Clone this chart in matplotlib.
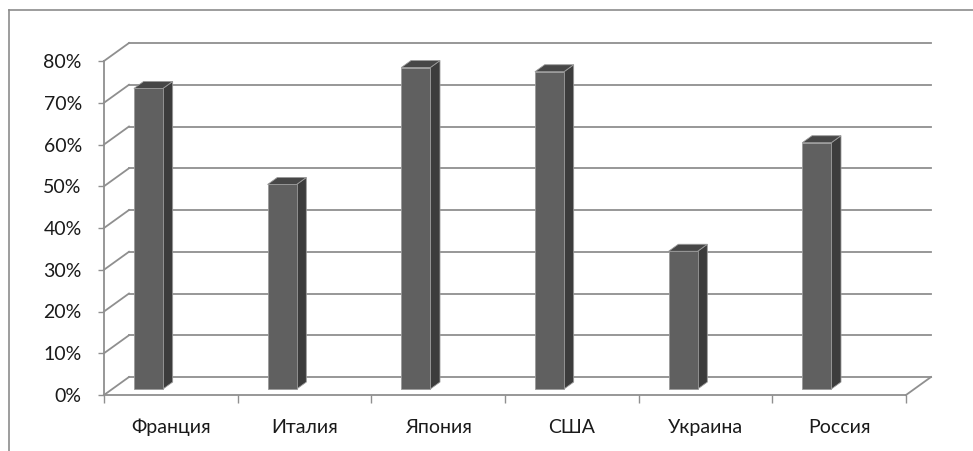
import matplotlib
matplotlib.use("Agg")
import matplotlib.pyplot as plt
from matplotlib.patches import Polygon
from matplotlib.lines import Line2D

categories = ["Франция", "Италия", "Япония", "США", "Украина", "Россия"]
values = [0.72, 0.49, 0.77, 0.76, 0.33, 0.59]
yticks = [0.0, 0.1, 0.2, 0.3, 0.4, 0.5, 0.6, 0.7, 0.8]
ytick_labels = ["0%", "10%", "20%", "30%", "40%", "50%", "60%", "70%", "80%"]

plt.rcParams['font.family'] = ['Lato', 'DejaVu Sans']

W, H = 973, 451
fig = plt.figure(figsize=(W / 100, H / 100), dpi=100)
fig.patch.set_facecolor("white")

# front plane of the 3D box (pixels)
fx0, fx1, fy0, fy1 = 104, 906, 395, 61
ax = fig.add_axes([fx0 / W, (H - fy0) / H, (fx1 - fx0) / W, (fy0 - fy1) / H])
n = len(categories)
ymax = 0.8
ax.set_xlim(0, n)
ax.set_ylim(0, ymax)
ax.patch.set_visible(False)
for s in ax.spines.values():
    s.set_visible(False)

# depth offset in data units (25 px right, 18 px up)
ppx = (fx1 - fx0) / n
ppy = (fy0 - fy1) / ymax
DX, DY = 25 / ppx, 18 / ppy

grid_c = "#8f8f8f"
lw = 1.3

# back wall gridlines
for y in yticks:
    ax.plot([0 + DX, n + DX], [y + DY, y + DY], color=grid_c, lw=lw, clip_on=False, zorder=1)
    # side wall diagonal
    ax.plot([0, DX], [y, y + DY], color=grid_c, lw=lw, clip_on=False, zorder=1)
# floor right edge and front edge
ax.plot([n, n + DX], [0, DY], color=grid_c, lw=lw, clip_on=False, zorder=1)
ax.plot([0, n], [0, 0], color=grid_c, lw=lw, clip_on=False, zorder=1)
ax.plot([0, 0], [0, ymax], color=grid_c, lw=lw, clip_on=False, zorder=1)

# bars
f0, f1 = 0.33, 0.72
a, w = 0.162, 0.217
front_c, side_c, top_c, edge_c = "#606060", "#3c3c3c", "#474747", "#9a9a9a"
for i, v in enumerate(values):
    x0 = i + a + f0 * DX
    y0 = f0 * DY
    ddx, ddy = (f1 - f0) * DX, (f1 - f0) * DY
    ax.add_patch(Polygon([(x0 + w, y0), (x0 + w + ddx, y0 + ddy), (x0 + w + ddx, y0 + v + ddy), (x0 + w, y0 + v)],
                         closed=True, facecolor=side_c, edgecolor=edge_c, lw=0.6, zorder=3, clip_on=False))
    ax.add_patch(Polygon([(x0, y0 + v), (x0 + w, y0 + v), (x0 + w + ddx, y0 + v + ddy), (x0 + ddx, y0 + v + ddy)],
                         closed=True, facecolor=top_c, edgecolor=edge_c, lw=0.6, zorder=3, clip_on=False))
    ax.bar([x0], [v], width=w, bottom=y0, align="edge", color=front_c, edgecolor=edge_c, lw=0.6, zorder=4, clip_on=False)

# ticks
ax.set_yticks(yticks)
ax.set_yticklabels(ytick_labels)
ax.tick_params(axis="y", length=4.5, width=1, color=grid_c, pad=11.5, labelsize=14, labelcolor="#1a1a1a")
ax.set_xticks(range(n + 1))
ax.set_xticklabels([""] * (n + 1))
ax.set_xticks([i + 0.5 for i in range(n)], minor=True)
ax.set_xticklabels(categories, minor=True)
ax.tick_params(axis="x", which="major", length=6, width=1, color=grid_c)
ax.tick_params(axis="x", which="minor", length=0, pad=17, labelsize=14, labelcolor="#1a1a1a")

# outer chart frame
fig.add_artist(Line2D([9 / W, 9 / W], [0, (H - 10) / H], color="#8c8c8c", lw=1.2))
fig.add_artist(Line2D([9 / W, 1], [(H - 10) / H, (H - 10) / H], color="#8c8c8c", lw=1.2))

fig.savefig("out.png", dpi=100)
